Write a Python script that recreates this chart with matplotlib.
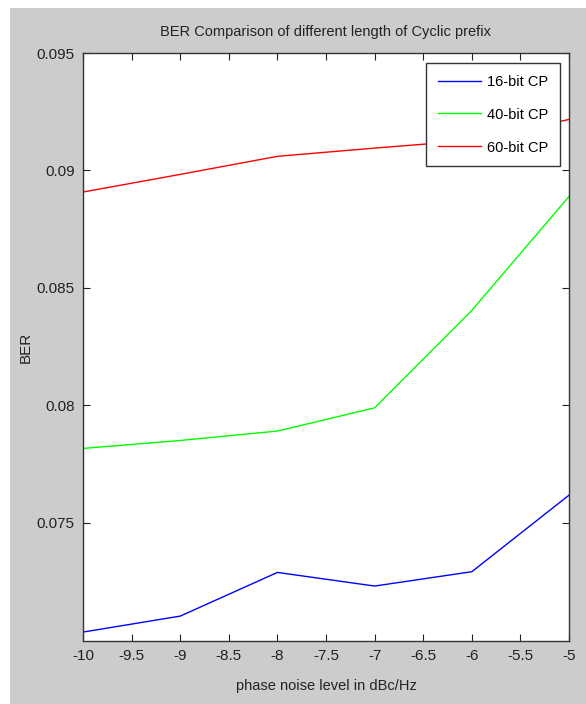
import matplotlib
matplotlib.use("Agg")
import matplotlib.pyplot as plt
from matplotlib.patches import Rectangle

# phase noise levels (dBc/Hz)
noise_db = [-10, -9, -8, -7, -6, -5]
# BER for each cyclic prefix length
ber_16 = [0.07034, 0.07102, 0.07288, 0.07230, 0.07291, 0.07617]
ber_40 = [0.07816, 0.07850, 0.07890, 0.07989, 0.08404, 0.08889]
ber_60 = [0.08908, 0.08983, 0.09060, 0.09095, 0.09128, 0.09217]
labels = ["16-bit CP", "40-bit CP", "60-bit CP"]
x_ticks = [-10, -9.5, -9, -8.5, -8, -7.5, -7, -6.5, -6, -5.5, -5]
x_ticklabels = ["-10", "-9.5", "-9", "-8.5", "-8", "-7.5", "-7", "-6.5", "-6", "-5.5", "-5"]
y_ticks = [0.075, 0.08, 0.085, 0.09, 0.095]
y_ticklabels = ["0.075", "0.08", "0.085", "0.09", "0.095"]

plt.rcParams['font.family'] = ['Liberation Sans', 'DejaVu Sans']

fig = plt.figure(figsize=(5.86, 7.04), dpi=100, facecolor='white')
# matlab-style grey figure background, with a thin white strip top/left
fig.patches.append(Rectangle((10 / 586, 0), 1, 1 - 8 / 704, transform=fig.transFigure,
                             facecolor='#cccccc', edgecolor='none', zorder=-10))

ax = fig.add_axes([83 / 586, 1 - 641 / 704, (569 - 83) / 586, (641 - 53) / 704])
ax.plot(noise_db, ber_16, color='#0000ff', lw=1.0, label=labels[0])
ax.plot(noise_db, ber_40, color='#00ff00', lw=1.0, label=labels[1])
ax.plot(noise_db, ber_60, color='#ff0000', lw=1.0, label=labels[2])

ax.set_xlim(-10, -5)
ax.set_ylim(0.06996, 0.095)
ax.set_xticks(x_ticks)
ax.set_xticklabels(x_ticklabels)
ax.set_yticks(y_ticks)
ax.set_yticklabels(y_ticklabels)
ax.tick_params(direction='in', top=True, right=True, length=5, width=0.8,
               labelsize=11, color='#222222', labelcolor='#222222', pad=6)
for s in ax.spines.values():
    s.set_color('#333333')
    s.set_linewidth(1.0)

ax.set_title("BER Comparison of different length of Cyclic prefix", fontsize=10.5,
             color='#222222', pad=12)
ax.set_xlabel("phase noise level in dBc/Hz", fontsize=10.5, color='#222222', labelpad=11)
ax.set_ylabel("BER", fontsize=11, color='#222222', labelpad=3)

leg = ax.legend(loc='upper right', bbox_to_anchor=(0.9965, 0.9955), fontsize=10.5,
                fancybox=False, framealpha=1, edgecolor='#333333',
                handlelength=3.0, borderpad=0.8, labelspacing=1.3, handletextpad=0.4)
leg.get_frame().set_linewidth(1.0)

fig.savefig("out.png", dpi=100, facecolor=fig.get_facecolor())
